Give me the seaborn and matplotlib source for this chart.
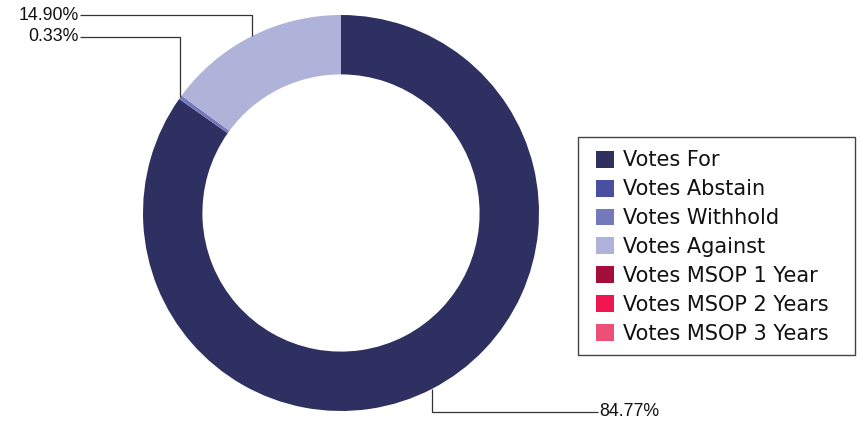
import numpy as np
import matplotlib
matplotlib.use("Agg")
import matplotlib.pyplot as plt
import matplotlib.patches as mpatches
import seaborn as sns

# Chart data
categories = ["Votes For", "Votes Abstain", "Votes Withhold", "Votes Against",
              "Votes MSOP 1 Year", "Votes MSOP 2 Years", "Votes MSOP 3 Years"]
shares = [84.77, 0.0, 0.33, 14.90, 0.0, 0.0, 0.0]
pct_labels = ["84.77%", "", "0.33%", "14.90%", "", "", ""]
colors = ["#2d3060", "#4a4f9f", "#7479bb", "#afb2d9",
          "#a30f3a", "#ee1550", "#ee4f78"]

sns.set_theme(style="white")
plt.rcParams["font.family"] = ["DejaVu Sans"]

W, H = 860, 422
fig = plt.figure(figsize=(W / 100, H / 100), dpi=100)
ax = fig.add_axes([0, 0, 1, 1])

# donut centre at pixel (341, 213), outer radius 198 px
cx, cy, R = 341, 213, 198
palette = sns.color_palette(colors)
ax.pie(shares, colors=palette, startangle=90, counterclock=False, radius=1.0,
       wedgeprops=dict(width=0.30, edgecolor="none", linewidth=0))
ax.set_xlim(-cx / R, (W - cx) / R)
ax.set_ylim(-(H - cy) / R, cy / R)
ax.set_aspect("auto")
ax.axis("off")

# leader lines: anchor on outer edge at slice middle, vertical then horizontal
label_pos = {0: (1.298, -1.005, "left"), 2: (-1.318, 0.889, "right"),
             3: (-1.318, 1.0, "right")}
total = sum(shares)
cum = 0.0
for i, v in enumerate(shares):
    mid = (cum + v / 2) / total
    cum += v
    if i not in label_pos:
        continue
    ang = 2 * np.pi * mid
    ax_x, ax_y = np.sin(ang), np.cos(ang)
    lx, ly, ha = label_pos[i]
    ax.plot([ax_x, ax_x, lx], [ax_y, ly, ly], color="#333333", lw=0.9,
            solid_capstyle="butt")
    ax.text(lx + (0.005 if ha == "left" else -0.005), ly, pct_labels[i],
            ha=ha, va="center", fontsize=12.8, family=["Liberation Sans"],
            color="#111111")

# legend frame drawn separately so the padding matches
frame = mpatches.Rectangle((578 / W, 1 - 355 / H), (855 - 578) / W,
                           (355 - 137) / H, transform=fig.transFigure,
                           facecolor="white", edgecolor="#444444", lw=1.0)
fig.patches.append(frame)

handles = [mpatches.Patch(facecolor=c, edgecolor="none") for c in palette]
leg = fig.legend(handles, categories, loc="upper left",
                 bbox_to_anchor=(596 / W, 1 - 150.5 / H), borderaxespad=0,
                 fontsize=15, frameon=False,
                 handlelength=0.87, handleheight=0.87, handletextpad=0.43,
                 labelspacing=0.425, borderpad=0)
for t in leg.get_texts():
    t.set_color("#111111")

fig.savefig("out.png", dpi=100)
